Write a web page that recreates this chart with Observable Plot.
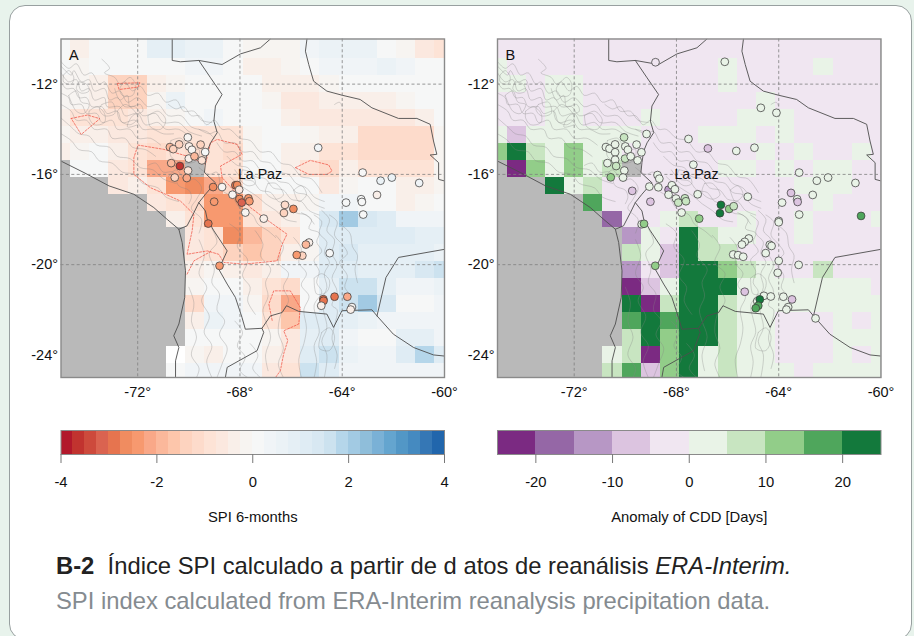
<!DOCTYPE html>
<html><head><meta charset="utf-8">
<script src="https://cdn.jsdelivr.net/npm/d3@7"></script>
<script src="https://cdn.jsdelivr.net/npm/@observablehq/plot@0.6"></script>
<style>
html,body{margin:0;padding:0;width:914px;height:636px;overflow:hidden;background:#e8f3ec;font-family:"Liberation Sans",sans-serif}
#card{position:absolute;left:9px;top:5px;width:903px;height:635px;box-sizing:border-box;border:1.5px solid #98a0a0;border-radius:16px;background:#fff}
.slot{position:absolute}
.cap{position:absolute;left:56px;white-space:nowrap;font-size:23.8px;line-height:28px}
</style></head><body>
<div id="card"></div>
<div id="mapA" class="slot" style="left:0;top:0"></div>
<div id="mapB" class="slot" style="left:457px;top:0"></div>
<div id="barA" class="slot" style="left:0;top:420px"></div>
<div id="barB" class="slot" style="left:457px;top:420px"></div>
<div class="cap" style="top:552px;color:#222"><b>B-2</b>&nbsp; Índice SPI calculado a partir de d atos de reanálisis <i>ERA-Interim.</i></div>
<div class="cap" style="top:587px;color:#858b90">SPI index calculated from ERA-Interim reanalysis precipitation data.</div>
<script>
const n = null;
const lonTicks = [-72, -68, -64, -60];
const latTicks = [-24, -20, -16, -12];
const spiTicks = [-4, -2, 0, 2, 4];
const cddTicks = [-20, -10, 0, 10, 20];
const spiColors = ["#b2182b","#c1332f","#cd4a3c","#da6350","#e6744f","#f08c60","#f7996f","#f9a888","#fbb89b","#fdc6ab","#fdd3bf","#fddbcb","#fde3d6","#fbe8df","#f9efe9","#f7f4f1",
"#f6f7f7","#f0f4f7","#ebf2f6","#e5eff5","#dfecf4","#d8e8f2","#cce2ef","#b5d6ea","#a2cae3","#8fbeda","#7ab1d6","#64a5cf","#5297c6","#458ac0","#3577b5","#2166ac"];
const cddColors = ["#7b2a82","#9567a6","#b797c5","#dcc4e0","#f0e6f1","#e9f3e7","#c8e5c1","#92cd89","#4fa65c","#13793c"];
const cddEdges = [-25,-20,-15,-10,-5,0,5,10,15,20,25];
const spiEdges = [-4,-3.75,-3.5,-3.25,-3,-2.75,-2.5,-2.25,-2,-1.75,-1.5,-1.25,-1,-.75,-.5,-.25,0,.25,.5,.75,1,1.25,1.5,1.75,2,2.25,2.5,2.75,3,3.25,3.5,3.75,4];

// SPI per ERA-Interim cell, rows north to south, columns west to east
const spiGrid = [
[.1,-.4,.1,.1,.2,.8,.9,.7,.7,.1,-.1,-.1,-.1,.4,.5,.5,.5,.1,-.2,-.6,-1],
[0,-.1,0,0,.1,.1,.1,.4,.4,.1,-.4,-.4,-.1,.1,.3,.3,.4,.7,.4,.1,0],
[-.1,-.1,-.3,-1.3,-1.3,-.4,-.1,0,0,0,0,-.4,-.4,-.4,-.1,0,0,0,.1,.1,0],
[-.1,-.1,-.4,-1.3,-1.3,-.1,.7,.1,0,0,0,-.1,-.7,-.7,-.4,-.3,-.3,-.3,-.1,.1,0],
[-.5,-.9,-.9,-.9,-.7,-.4,-.1,0,.3,0,0,0,-.3,-.7,-.7,-.7,-.7,-.7,-.7,-.3,0],
[-.1,-.5,-.5,-.7,-.7,-.9,-.8,-.8,-.9,-.9,-.1,.1,.1,-.1,-.5,-.5,-1.1,-1.1,-1.1,-1.1,-.1],
[-.3,-.1,0,-.5,-.8,-1.1,-.9,-1.1,-.9,-1.1,-.1,0,-.5,-.5,-.8,-.8,-1.1,-1.1,-1.1,-1.1,-.1],
[n,0,0,-.7,-.8,-2.1,-2.1,n,-.9,-.9,.1,0,-.5,-.9,-1.2,-.3,-.9,-.9,-.9,-.9,-.1],
[n,n,n,-.7,-.5,-.9,-2.4,-2.6,-2.1,-1.1,0,.1,.1,0,-.7,-.1,.1,.1,-.4,-.4,-.1],
[n,n,n,n,n,-.7,-.9,-1.1,-2.5,-2.4,-1.2,-.5,-.4,-.1,.3,.4,.1,.1,-.3,-.1,0],
[n,n,n,n,n,n,-.5,-.8,-2.5,-2.5,-.9,-.7,-.5,.1,1.3,2.1,1.4,1.1,.4,.4,.3],
[n,n,n,n,n,n,n,-.7,-.8,-2.6,-1.9,-1.3,-.8,.1,1.1,1.1,1.2,1.2,1.2,.9,.8],
[n,n,n,n,n,n,n,-.7,-.8,-1.3,-1.6,-1.5,-.3,-.1,1.1,1.4,.8,.8,.8,.8,.7],
[n,n,n,n,n,n,n,-.3,-.1,-.5,-.7,-.5,.3,.4,1.1,1.2,.8,.8,.9,1.4,1.6],
[n,n,n,n,n,n,n,-.1,.1,.1,-.3,-.9,-1.1,0,.9,1.7,1.7,.9,.3,.3,.7],
[n,n,n,n,n,n,n,-1.2,.3,.4,-.1,-1.1,-2.2,0,1.2,1.6,2.1,1.4,.1,.1,.4],
[n,n,n,n,n,n,n,-.3,.5,.3,.1,-.8,-1.6,1.1,1.2,.9,.7,.4,.3,.3,.4],
[n,n,n,n,n,n,n,0,.1,.1,.1,-.1,-.7,.9,1.1,.3,0,.1,.8,.8,.3],
[n,n,n,n,n,n,0,-.1,-.5,.1,.1,-.4,-.7,1.1,1.7,.5,.3,.3,1.1,1.8,1.1],
[n,n,n,n,n,n,0,.4,.4,.4,.3,-.7,-.8,1.6,1.1,.4,.4,.3,.3,.3,.3]
];
// CDD anomaly per cell
const cddGrid = [
[-2,-2,-2,-2,-2,-2,-2,-2,-2,-2,-2,-2,-2,-2,-2,-2,-2,-2,-2,-2,-2],
[2,-2,-2,-2,-2,-2,-2,-2,-2,-2,-2,-2,2,-2,-2,-2,-2,2,-2,-2,-2],
[2,2,-2,2,2,-2,-2,-2,-2,-2,-2,-2,2,-2,-2,-2,-2,-2,-2,-2,-2],
[-2,-2,-2,2,2,-2,-2,-2,-2,-2,-2,-2,-2,-2,2,-2,-2,-2,-2,-2,-2],
[-2,-2,-2,2,2,-2,-2,-2,2,-2,-2,-2,-2,2,2,2,-2,-2,-2,-2,-2],
[2,-7,2,2,2,2,2,2,-2,-2,-2,2,2,2,-2,2,-2,-2,-2,-2,-2],
[12,25,7,2,12,2,2,-2,-2,-2,-2,-2,-2,-2,2,-2,2,-2,-2,2,-2],
[n,-22,12,2,12,2,7,n,-2,-2,-2,-2,2,2,-2,2,-2,2,2,-2,-2],
[n,n,n,22,2,7,-2,-2,-2,-2,-2,-2,-2,-2,-2,-2,2,2,2,-2,-2],
[n,n,n,n,n,17,-2,-2,-2,-2,-2,-2,-2,-2,-2,-2,-2,2,-2,-2,-2],
[n,n,n,n,n,n,-17,-2,-2,2,7,-2,-2,2,-2,-2,2,-2,-2,-2,2],
[n,n,n,n,n,n,n,-12,2,-2,25,7,2,2,-2,-2,2,-2,-2,-2,-2],
[n,n,n,n,n,n,n,7,2,-7,25,7,7,-2,-2,-2,-2,-2,-2,-2,-2],
[n,n,n,n,n,n,n,-12,-2,-7,25,25,12,7,2,-2,-2,7,-2,-2,-2],
[n,n,n,n,n,n,n,-22,-7,2,25,25,25,2,2,2,2,2,2,2,-2],
[n,n,n,n,n,n,n,25,-22,7,25,25,7,2,2,2,2,2,2,2,2],
[n,n,n,n,n,n,n,17,25,17,25,25,7,2,2,-2,-2,-2,2,-2,2],
[n,n,n,n,n,n,n,7,25,12,25,25,7,2,2,-2,-2,-2,2,2,2],
[n,n,n,n,n,n,2,7,-22,12,25,2,7,2,2,-2,-2,-2,2,-2,2],
[n,n,n,n,n,n,7,17,-7,12,25,2,7,2,2,2,-2,2,2,2,2]
];
// stations: lon, lat, value
const spiStations = [
[-70.04,-14.36,-.2],[-70.74,-14.79,-1.8],[-70.61,-14.88,-1.3],[-70.38,-14.67,-1.4],[-69.99,-14.76,-.4],[-69.88,-14.91,-.2],[-69.54,-14.68,-1.4],[-69.36,-15.01,.1],[-70,-15.3,-.3],[-69.78,-15.2,-1.8],[-69.49,-15.38,-.9],[-70.69,-15.5,-2],[-70.35,-15.63,-3.6],[-70.03,-15.83,-.9],[-70.55,-16.14,-1.4],[-70.08,-16.16,-2.2],[-69.05,-16.56,-2.7],[-68.7,-16.56,-.1],[-68.18,-16.48,-3],[-68.11,-16.47,-2.7],[-68.03,-16.68,-.6],[-68.29,-16.9,-.2],[-69.01,-17.21,-2.4],[-68.02,-17.09,-2.6],[-67.93,-17.25,-3.1],[-67.67,-17.06,-2.4],[-67.63,-17.19,-2.4],[-67.79,-17.69,-.1],[-67.07,-17.96,-.3],[-66.24,-17.35,-1.1],[-65.91,-17.53,-2.6],[-66.28,-17.71,-1.4],[-64.94,-14.82,.3],[-63.2,-15.92,.2],[-62.5,-16.28,.7],[-62.06,-16.14,.5],[-60.99,-16.38,.3],[-62.64,-16.91,-.5],[-63.26,-17.1,0],[-63.23,-17.22,.2],[-63.85,-17.25,.1],[-63.18,-17.78,.2],
[-69.24,-18.18,-3],[-65.3,-19.02,-.5],[-65.42,-19.11,-2],[-65.56,-19.6,-1.3],[-65.78,-19.57,-2.4],[-64.49,-19.49,0],[-68.8,-20.05,-2.4],[-64.74,-21.53,-3],[-64.73,-21.6,-3],[-64.3,-21.42,-3],[-63.8,-21.42,-2.2],[-64.82,-21.82,-.4],[-63.62,-21.88,-.1],[-63.67,-21.99,-.4]
];
const cddStations = [
[-68.82,-11.03,-2],[-66.11,-11.01,2],[-64.7,-13.05,1],[-64.09,-13.27,1],[-69.17,-14.21,1],[-70.05,-14.36,7],[-67.53,-14.43,1],[-66.77,-14.85,-7],[-65.66,-14.96,1],[-64.95,-14.82,1],[-70.76,-14.79,1],[-70.62,-14.86,1],[-70.4,-14.67,1],[-70,-14.76,1],[-69.9,-14.91,1],[-69.56,-14.68,1],[-69.37,-15.02,1],[-70.4,-15.02,1],[-70.01,-15.3,7],[-69.79,-15.2,1],[-69.52,-15.38,1],[-70.4,-15.35,1],[-70.7,-15.5,1],[-70.36,-15.63,7],[-70.04,-15.83,1],[-70.57,-16.13,12],[-70.09,-16.14,1],[-67.34,-15.57,1],[-68.74,-16.03,1],[-68.67,-16.19,1],[-69.06,-16.54,2],[-68.71,-16.57,1],[-69.73,-16.73,-7],[-68.31,-16.68,-12],[-68.18,-16.48,1],[-68.06,-16.66,1],[-68.31,-16.9,1],[-69.02,-17.21,-7],[-68.02,-17.07,1],[-67.93,-17.25,7],[-67.67,-17.06,7],[-67.63,-17.19,7],[-67.17,-16.88,1],[-67.8,-17.69,2],[-67.11,-17.96,12],[-66.26,-17.35,25],[-65.94,-17.53,12],[-65.76,-17.41,7],[-66.3,-17.72,25],[-65.21,-16.99,1],[-63.2,-15.92,1],[-62.51,-16.28,1],[-62.07,-16.14,1],[-61,-16.38,1],[-63.52,-16.82,-7],[-62.67,-16.91,1],[-63.28,-17.1,1],[-63.26,-17.22,-7],[-63.87,-17.25,1],[-63.2,-17.78,1],[-60.78,-17.84,17],[-64,-18.06,1],
[-69.36,-18.21,1],[-69.27,-18.19,12],[-64,-18.12,1],[-65.17,-18.84,1],[-65.33,-18.99,1],[-65.44,-19.11,1],[-64.35,-19.12,2],[-64.28,-19.17,1],[-64.51,-19.49,2],[-65.78,-19.55,1],[-65.59,-19.58,1],[-65.39,-19.65,1],[-64,-19.83,1],[-63.22,-20.01,1],[-68.83,-20.05,12],[-64.04,-20.36,1],[-65.33,-21.2,-7],[-64.58,-21.38,1],[-64.31,-21.41,1],[-63.82,-21.42,1],[-63.48,-21.54,-7],[-64.84,-21.62,1],[-64.74,-21.54,25],[-64.8,-21.82,17],[-64.9,-21.93,17],[-63.63,-21.88,1],[-63.7,-21.99,1],[-62.56,-22.38,1]
];
// political borders and coast, lon/lat
const borders = [
[[-70.65,-10],[-70.65,-10.95],[-70.33,-11.01],[-69.61,-10.95],[-68.7,-11.13],[-67.98,-10.66],[-67.2,-10.39],[-66.81,-10]],
[[-69.61,-10.95],[-69.15,-11.72],[-68.7,-12.46],[-68.96,-12.97],[-69.02,-13.64],[-68.89,-14.15],[-69.15,-14.6],[-69.28,-14.96],[-69.35,-15.48],[-69.39,-15.92],[-68.96,-16.37],[-69.35,-16.88],[-69.61,-17.25],[-69.35,-17.62],[-69.28,-17.99],[-69.02,-18.5],[-68.5,-19.39],[-68.83,-20.2],[-68.5,-20.86],[-68.18,-21.45],[-67.92,-22.34],[-67.79,-22.86],[-67.14,-22.82],[-67.07,-23],[-67.33,-23.81],[-68.5,-24.55],[-68.57,-25]],
[[-67.14,-22.82],[-66.81,-22.27],[-66.35,-22.12],[-66.18,-21.82],[-65.7,-22.07],[-64.6,-22.19],[-64.34,-22.78],[-64.01,-22.04],[-62.84,-22],[-62.64,-22.27],[-62,-23.08],[-61.21,-23.67],[-60.43,-24],[-60,-24.05]],
[[-62.64,-22.27],[-62.29,-20.57],[-61.8,-19.68],[-60,-19.32]],
[[-65.38,-10],[-65.44,-10.54],[-65.31,-11.13],[-65.12,-11.87],[-64.6,-12.31],[-64.01,-12.49],[-63.3,-12.68],[-62.84,-13.05],[-61.8,-13.52],[-61.08,-13.52],[-60.56,-13.78],[-60.43,-14.52],[-60.3,-15.11],[-60.56,-15.14],[-60.23,-15.48],[-60.23,-16.22],[-60,-16.29]],
[[-75,-15.41],[-74.1,-15.92],[-73.12,-16.51],[-72.15,-16.88],[-71.37,-17.47],[-70.85,-17.99],[-70.39,-18.43],[-70.26,-19.02],[-70.13,-20.27],[-70.16,-21.45],[-70.39,-22.63],[-70.59,-23.15],[-70.39,-23.67],[-70.52,-24.26],[-70.52,-25]],
[[-70.39,-18.43],[-70.07,-18.28],[-69.8,-17.69],[-69.61,-17.25]]
];
// SPI = -1 contour outlines (panel A)
const spiContours = [
[[-72.8,-11.97],[-71.91,-11.94],[-71.99,-12.13],[-72.73,-12.24],[-72.8,-11.97]],
[[-74.6,-13.52],[-73.97,-13.37],[-73.48,-13.53],[-74.21,-14.23],[-74.6,-13.52]],
[[-71.99,-14.7],[-70.98,-14.89],[-70.07,-15.19],[-69.35,-15.55],[-69.15,-14.6],[-68.89,-14.45],[-68.11,-14.67],[-67.92,-15.11],[-68.76,-15.63],[-68.7,-16.14],[-68.11,-16.88],[-67.59,-17.47],[-67.07,-17.91],[-66.16,-18.65],[-66.35,-19.09],[-66.55,-19.83],[-67.85,-19.98],[-68.63,-19.9],[-68.83,-19.54],[-69.28,-19.39],[-70.07,-19.54],[-69.87,-18.5],[-69.8,-17.77],[-70.33,-17.18],[-70.91,-16.88],[-71.5,-16.59],[-72.15,-16],[-72.15,-15.26],[-71.99,-14.7]],
[[-70.07,-20.42],[-69.8,-19.83],[-69.15,-19.42]],
[[-65.83,-15.7],[-65.25,-15.38],[-64.53,-15.58],[-64.4,-15.85],[-64.6,-16],[-65.31,-16],[-65.83,-15.7]],
[[-66.74,-22.47],[-66.87,-21.75],[-66.68,-21.16],[-66.03,-21.16],[-65.64,-21.9],[-65.7,-22.63],[-66.29,-22.93],[-66.13,-23.36],[-66.29,-23.95],[-66.42,-24.7],[-66.61,-25]]
];
// topography isolines
const topo = [
[[-75,-11],[-74.7,-11.3],[-74.4,-11.1],[-74.1,-11.6],[-73.8,-11.5],[-73.5,-12],[-73.3,-11.9],[-73,-12.4],[-72.7,-12.3],[-72.4,-12.8],[-72,-12.6],[-71.6,-13],[-71.2,-12.9],[-70.8,-13.4],[-70.3,-13.4],[-69.9,-13.9],[-69.3,-14.1],[-69,-14.4]],
[[-75,-11.2],[-74.6,-11.6],[-74.5,-11.4],[-74.2,-11.9],[-73.9,-11.8],[-73.7,-12.3],[-73.3,-12.2],[-73.1,-12.7],[-72.8,-12.6],[-72.5,-13],[-72.1,-13],[-71.8,-13.4],[-71.3,-13.3],[-71,-13.7],[-70.4,-13.7],[-70,-14.1],[-69.5,-14.3]],
[[-75,-11.5],[-74.7,-11.9],[-74.4,-11.8],[-74.2,-12.3],[-73.9,-12.2],[-73.7,-12.7],[-73.3,-12.6],[-73.2,-13],[-72.7,-13],[-72.5,-13.4],[-72,-13.3],[-71.7,-13.8],[-71.2,-13.7],[-70.9,-14],[-70.4,-14],[-70,-14.3]],
[[-75,-11.9],[-74.8,-12.2],[-74.5,-12.2],[-74.3,-12.6],[-74,-12.6],[-73.8,-13],[-73.4,-13],[-73.2,-13.3],[-72.8,-13.2],[-72.6,-13.7],[-72.1,-13.6],[-71.8,-14],[-71.4,-14],[-71,-14.2],[-70.6,-14.2]],
[[-75,-12.4],[-74.7,-12.6],[-74.6,-12.9],[-74.2,-12.9],[-74,-13.3],[-73.6,-13.3],[-73.4,-13.7],[-73,-13.6],[-72.8,-14],[-72.3,-14],[-72,-14.4],[-71.5,-14.4],[-71.1,-14.7]],
[[-75,-12.9],[-74.6,-13.2],[-74.4,-13.6],[-74,-13.6],[-73.7,-14],[-73.2,-14],[-73,-14.4],[-72.5,-14.4],[-72.2,-14.8],[-71.7,-14.9],[-71.3,-15.2]],
[[-75,-13.5],[-74.6,-13.9],[-74.3,-14.2],[-73.9,-14.3],[-73.6,-14.7],[-73.1,-14.8],[-72.8,-15.2],[-72.3,-15.3],[-71.9,-15.7],[-71.4,-15.8],[-71,-16.2],[-70.5,-16.4]],
[[-75,-14.2],[-74.6,-14.5],[-74.3,-14.9],[-73.8,-15],[-73.5,-15.4],[-73,-15.5],[-72.6,-15.9],[-72.1,-16],[-71.8,-16.4],[-71.2,-16.6],[-70.9,-17],[-70.4,-17.2]],
[[-73.4,-10.9],[-73.1,-11.3],[-73.3,-11.5],[-72.9,-11.7],[-72.7,-12],[-72.5,-11.9],[-72.2,-12.3],[-71.9,-12.1],[-71.6,-12.5],[-71.2,-12.4],[-70.9,-12.8],[-70.5,-12.7],[-70.2,-13.2],[-69.8,-13.2],[-69.5,-13.6],[-69.1,-13.7]],
[[-72.9,-12.2],[-72.7,-12.7],[-72.4,-12.5],[-72.3,-13],[-71.9,-12.9],[-71.8,-13.2],[-72.2,-13.4],[-72.4,-13.9],[-72,-13.8]],
[[-74.7,-12.5],[-74.4,-12.3],[-74.2,-12.8],[-73.9,-12.9],[-74.1,-13.3],[-74.4,-13.2],[-74.7,-12.5]],
[[-73.4,-12.9],[-73,-12.8],[-72.9,-13.3],[-73.3,-13.4],[-73.5,-13.1],[-73.4,-12.9]],
[[-74.9,-11.6],[-74.7,-11.4],[-74.5,-11.7],[-74.6,-12],[-74.9,-11.9],[-74.9,-11.6]],
[[-74.3,-11.9],[-74,-12],[-73.9,-12.3],[-74.2,-12.4],[-74.4,-12.2],[-74.3,-11.9]],
[[-72.6,-12],[-72.3,-11.7],[-72.1,-12],[-72.2,-12.5],[-72.6,-12.5],[-72.7,-12.2],[-72.6,-12]],
[[-72.8,-13.2],[-72.5,-12.9],[-72.2,-13.1],[-72,-13.5],[-72.3,-13.8],[-72.7,-13.6],[-72.8,-13.2]],
[[-73.9,-13.2],[-73.6,-13],[-73.3,-13.3],[-73.3,-13.7],[-73.7,-13.8],[-73.9,-13.5],[-73.9,-13.2]],
[[-71.6,-13.4],[-71.2,-13.2],[-70.9,-13.6],[-71.1,-14],[-71.5,-13.9],[-71.6,-13.4]],
[[-70.8,-12.9],[-70.5,-13.1],[-70.2,-13],[-69.9,-13.4],[-69.6,-13.4],[-69.3,-13.8],[-69,-13.6],[-68.7,-14],[-68.4,-14],[-68,-14.4],[-67.6,-14.5],[-67.2,-15],[-66.8,-15],[-66.4,-15.5],[-66,-15.6],[-65.6,-16.1],[-65.2,-16.2],[-64.8,-16.8]],
[[-69.6,-14],[-69.2,-14.2],[-68.9,-14.1],[-68.6,-14.6],[-68.2,-14.6],[-67.9,-15],[-67.5,-15],[-67.2,-15.4],[-66.8,-15.5],[-66.5,-15.9],[-66.1,-16],[-65.8,-16.4],[-65.4,-16.6],[-65.1,-17],[-64.7,-17.2]],
[[-68.9,-14.6],[-68.6,-15],[-68.2,-15],[-67.9,-15.4],[-67.5,-15.4],[-67.2,-15.8],[-66.8,-15.9],[-66.5,-16.3],[-66.1,-16.4],[-65.8,-16.8],[-65.4,-16.9],[-65.1,-17.3],[-64.7,-17.5]],
[[-68.5,-15.2],[-68.1,-15.6],[-67.7,-15.7],[-67.4,-16.1],[-67,-16.2],[-66.7,-16.6],[-66.3,-16.7],[-66,-17.1],[-65.6,-17.2],[-65.3,-17.6],[-64.9,-17.8]],
[[-68.2,-15.8],[-67.9,-16.2],[-67.5,-16.3],[-67.2,-16.7],[-66.8,-16.8],[-66.5,-17.2],[-66.1,-17.3],[-65.8,-17.7],[-65.4,-17.8],[-65.1,-18.2]],
[[-68.4,-16.1],[-68.1,-16.4],[-67.7,-16.7],[-67.3,-17],[-67,-17.3],[-66.6,-17.6],[-66.2,-18],[-65.8,-18.1]],
[[-67.9,-15.8],[-67.6,-15.9],[-67.4,-16.4],[-67.7,-16.5],[-68,-16.2],[-67.9,-15.8]],
[[-66.9,-16.4],[-66.6,-16.4],[-66.3,-16.9],[-66.6,-17.1],[-67,-16.8],[-66.9,-16.4]],
[[-69.6,-15.7],[-69.2,-16],[-68.9,-15.9],[-68.7,-16.7],[-68.3,-17],[-68,-17.5],[-67.5,-17.8],[-67.3,-18.2],[-66.9,-18.5],[-66.6,-18.8]],
[[-70.8,-16.1],[-70.5,-15.8],[-70.1,-16.3],[-69.8,-16.2],[-69.5,-16.6],[-69.7,-17.1],[-69.9,-17.5],[-69.5,-18],[-69.6,-18.6]],
[[-71.6,-15.6],[-71.3,-15.5],[-71,-15.9],[-70.6,-15.9],[-70.4,-16.5],[-70,-16.7],[-69.9,-17],[-70,-17.3]],
[[-70.7,-14.5],[-70.3,-14.4],[-70,-14.9],[-69.6,-14.9],[-69.7,-15.4],[-70.2,-15.5],[-70.7,-15.2],[-70.7,-14.5]],
[[-65.6,-17.7],[-65.2,-18],[-65.3,-18.4],[-64.9,-18.6],[-65,-19],[-64.8,-19.4],[-65.1,-19.8],[-64.9,-20.3],[-65,-20.8],[-64.8,-21.2],[-65.1,-21.8],[-65,-22.4],[-64.9,-23],[-65.1,-23.6],[-65,-24.3],[-65.1,-25]],
[[-65.1,-17.8],[-64.8,-18.1],[-64.9,-18.6],[-64.6,-19],[-64.7,-19.5],[-64.5,-19.9],[-64.7,-20.4],[-64.6,-21],[-64.8,-21.6],[-64.7,-22.2],[-64.6,-22.8],[-64.8,-23.4],[-64.6,-24],[-64.7,-25]],
[[-64.8,-17.6],[-64.5,-18],[-64.6,-18.5],[-64.3,-18.9],[-64.4,-19.5],[-64.2,-20],[-64.4,-20.6],[-64.2,-21.2],[-64.4,-21.8],[-64.2,-22],[-64.3,-22.7],[-64.4,-23.3],[-64.2,-24],[-64.3,-24.6]],
[[-64.5,-17.8],[-64.2,-18.1],[-64.3,-18.7],[-64,-19.1],[-63.8,-19.5],[-64.1,-19.9],[-63.8,-20.5],[-63.9,-21],[-63.7,-21.3]],
[[-64.1,-18.2],[-63.7,-18.6],[-63.6,-19.2],[-63.4,-19.6],[-63.5,-20.2],[-63.4,-20.8]],
[[-65.1,-20.6],[-64.8,-20.4],[-64.5,-20.7],[-64.6,-21.2],[-65,-21.3],[-65.1,-20.6]],
[[-64.8,-23],[-64.5,-22.8],[-64.3,-23.2],[-64.5,-23.8],[-64.9,-23.7],[-64.8,-23]],
[[-65.9,-18.8],[-65.6,-19.3],[-65.7,-19.9],[-65.4,-20.4],[-65.6,-20.9],[-65.3,-21.4],[-65.5,-22],[-65.4,-22.8],[-65.5,-23.5],[-65.7,-24.2],[-65.6,-25]],
[[-66.6,-18.7],[-66.3,-19.2],[-66.5,-19.9],[-66.1,-20.4],[-66.3,-21],[-66.1,-21.6],[-66.4,-22.2],[-66.5,-23],[-66.3,-23.7],[-66.5,-24.4],[-66.3,-25]],
[[-67.4,-18.5],[-67.1,-19.1],[-67.2,-19.6],[-66.8,-20.2],[-67,-20.8],[-66.9,-21.4],[-67.1,-22],[-67,-22.5],[-66.8,-23.2],[-67,-24],[-66.9,-24.7]],
[[-68.4,-18.2],[-68,-18.6],[-68.1,-19.2],[-67.7,-19.8],[-67.9,-20.5],[-67.6,-21],[-67.7,-21.6],[-67.4,-22.2]],
[[-69.1,-18.4],[-68.9,-19],[-69.2,-19.5],[-69,-20.2],[-69.1,-20.8],[-68.8,-21.3],[-68.9,-22],[-68.6,-22.5],[-68.8,-23.1],[-68.5,-23.7],[-68.7,-24.4],[-68.9,-25]],
[[-69.6,-18.9],[-69.4,-19.6],[-69.6,-20.4],[-69.3,-21],[-69.5,-21.6],[-69.2,-22.3],[-69.4,-23],[-69.1,-23.6],[-69.3,-24.3],[-69.1,-25]],
[[-70,-21],[-69.8,-21.7],[-69.9,-22.5],[-69.7,-23.2],[-69.9,-24],[-69.6,-24.6],[-69.7,-25]],
[[-68.2,-22.5],[-67.9,-23],[-68.1,-23.6],[-67.8,-24.1],[-68,-24.7],[-67.7,-25]],
[[-67.6,-23.5],[-67.3,-24],[-67.5,-24.6],[-67.2,-25]],
[[-65.9,-16.7],[-65.6,-16.5],[-65.4,-16.9],[-65.7,-17.2],[-65.9,-16.7]],
[[-64.3,-12.9],[-64.1,-12.8],[-64,-13]]
];
const cityLabel = [{lon:-68.08, lat:-16, name:"La Paz"}];
const panelNames = ["A", "B"];
const barTitles = ["SPI 6-months", "Anomaly of CDD [Days]"];

const cellsOf = grid => grid.flatMap((row, i) => row.map((v, j) => ({
  v, x1:-75+.75*j-.375, x2:-75+.75*j+.375,
  y1:i===0?-9.9:-10.5-.75*i+.375, y2:-10.5-.75*i-.375
}))).filter(d => d.v !== null);
const pts = rows => rows.map(([lon,lat,v]) => ({lon,lat,v}));
const lines = (set) => set.flatMap((l,k)=>l.map(([lon,lat])=>({lon,lat,k})));

const spiColor = {type:"threshold", domain:spiEdges.slice(1,-1), range:spiColors};
const cddColor = {type:"threshold", domain:cddEdges.slice(1,-1), range:cddColors};

function mapPanel({grid, stations, color, name, left, width, dashed, white}) {
  return Plot.plot({
    width, height:400, marginLeft:left, marginRight:width-left-383.5, marginTop:38.5, marginBottom:23,
    style:{background:"transparent", maxWidth:"none", overflow:"visible", fontFamily:"Liberation Sans", color:"#111"},
    x:{domain:[-75,-60]}, y:{domain:[-25,-10]}, color,
    marks:[
      Plot.frame({fill:"#b9b9b9"}),
      Plot.rect(cellsOf(grid), {x1:"x1",x2:"x2",y1:"y1",y2:"y2",fill:"v",clip:true,shapeRendering:"crispEdges"}),
      white ? Plot.rect(white, {x1:"x1",x2:"x2",y1:"y1",y2:"y2",fill:"#fff",clip:true,shapeRendering:"crispEdges"}) : null,
      Plot.line(lines(topo), {x:"lon",y:"lat",z:"k",stroke:"#858585",strokeWidth:.5,strokeOpacity:.65,clip:true,curve:"catmull-rom"}),
      dashed ? Plot.line(lines(spiContours), {x:"lon",y:"lat",z:"k",stroke:"#ef4b3c",strokeWidth:.7,strokeDasharray:"2,1.6",clip:true}) : null,
      Plot.line(lines(borders), {x:"lon",y:"lat",z:"k",stroke:"#4d4d4d",strokeWidth:.9,clip:true}),
      Plot.ruleX(lonTicks.slice(0,3), {stroke:"#7f7f7f",strokeWidth:.8,strokeDasharray:"3,2.4"}),
      Plot.ruleY(latTicks.slice(1), {stroke:"#7f7f7f",strokeWidth:.8,strokeDasharray:"3,2.4"}),
      Plot.dot(pts(stations), {x:"lon",y:"lat",fill:"v",r:3.9,stroke:"#3c3c3c",strokeWidth:.75}),
      Plot.text(cityLabel, {x:"lon",y:"lat",text:"name",textAnchor:"start",fontSize:14.2,fill:"#111"}),
      Plot.text([name], {frameAnchor:"top-left",dx:8,dy:11,fontSize:14.5,fill:"#111"}),
      Plot.frame({stroke:"#8a8a8a",strokeWidth:1.4}),
      Plot.axisX(lonTicks, {tickSize:0,tickPadding:9,fontSize:14.5,tickFormat:d=>d+"°",label:null}),
      Plot.axisY(latTicks, {tickSize:0,tickPadding:3,fontSize:14.5,tickFormat:d=>d+"°",label:null})
    ]
  });
}
function colorBar({edges, color, ticks, title, left, width}) {
  const bins = edges.slice(0,-1).map((e,i)=>({x1:e,x2:edges[i+1],v:(e+edges[i+1])/2}));
  return Plot.plot({
    width, height:110, marginLeft:left, marginRight:width-left-383.5, marginTop:10, marginBottom:76,
    style:{background:"transparent", maxWidth:"none", overflow:"visible", fontFamily:"Liberation Sans", color:"#111"},
    x:{domain:[edges[0],edges[edges.length-1]]}, y:{domain:[0,1],axis:null}, color,
    marks:[
      Plot.rect(bins,{x1:"x1",x2:"x2",y1:0,y2:1,fill:"v",shapeRendering:"crispEdges"}),
      Plot.frame({stroke:"#8a8a8a",strokeWidth:1}),
      Plot.axisX(ticks,{tickSize:9,tickPadding:13,fontSize:14.8,stroke:"#777",fill:"#111",tickFormat:d=>String(d),label:title,labelAnchor:"center",labelArrow:"none",labelOffset:67})
    ]
  });
}
document.getElementById("mapA").append(mapPanel({grid:spiGrid,stations:spiStations,color:spiColor,name:panelNames[0],left:60.5,width:457,dashed:true,white:[{x1:-70.875,x2:-70.125,y1:-23.625,y2:-24.375}]}));
document.getElementById("mapB").append(mapPanel({grid:cddGrid,stations:cddStations,color:cddColor,name:panelNames[1],left:40,width:457}));
document.getElementById("barA").append(colorBar({edges:spiEdges,color:spiColor,ticks:spiTicks,title:barTitles[0],left:60.5,width:457}));
document.getElementById("barB").append(colorBar({edges:cddEdges,color:cddColor,ticks:cddTicks,title:barTitles[1],left:40,width:457}));
</script>
</body></html>
